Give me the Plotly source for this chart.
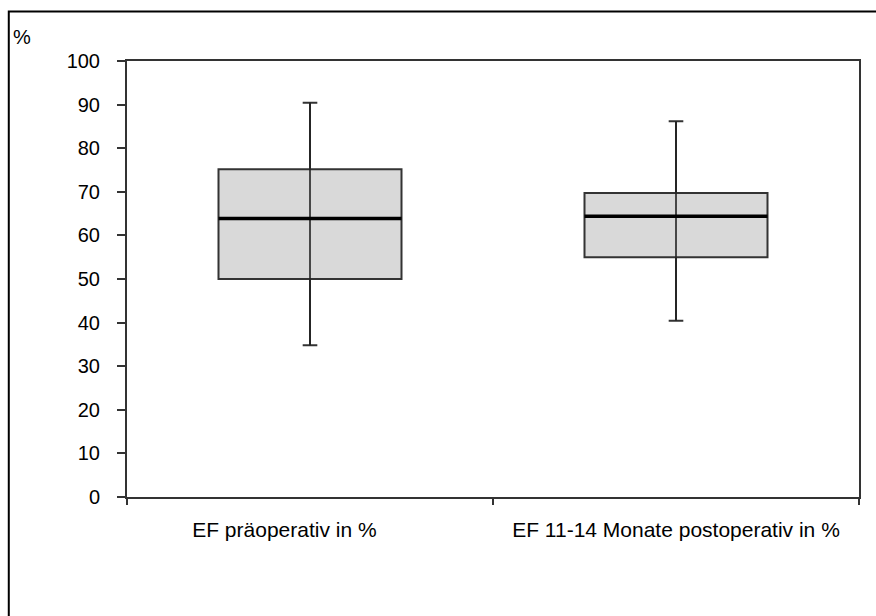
import plotly.graph_objects as go

# Ejection fraction before surgery and 11-14 months after
categories = ["EF präoperativ in %", "EF 11-14 Monate postoperativ in %"]
x_pos = [0, 1]
minimum = [34.8, 40.4]
q1 = [50.0, 55.0]
median = [63.9, 64.4]
q3 = [75.2, 69.7]
maximum = [90.4, 86.2]

y_ticks = list(range(0, 101, 10))
label_pos = [-0.07, 1.0]

FONT = "Liberation Sans, Arial, sans-serif"
LINE = "#333333"
BOX_HALF = 0.25

fig = go.Figure()

fig.add_trace(go.Box(
    x=x_pos,
    q1=q1, median=median, q3=q3,
    lowerfence=minimum, upperfence=maximum,
    width=2 * BOX_HALF,
    whiskerwidth=0.08,
    fillcolor="#d9d9d9",
    line=dict(color=LINE, width=2),
    boxpoints=False,
    hoverinfo="skip",
    showlegend=False,
))

# whisker line running through each box
for xi, lo, hi in zip(x_pos, minimum, maximum):
    fig.add_trace(go.Scatter(
        x=[xi, xi], y=[lo, hi], mode="lines",
        line=dict(color="#222222", width=1.6),
        hoverinfo="skip", showlegend=False,
    ))

# heavier median bars
for xi, m in zip(x_pos, median):
    fig.add_trace(go.Scatter(
        x=[xi - BOX_HALF, xi + BOX_HALF], y=[m, m], mode="lines",
        line=dict(color="#000000", width=3.5),
        hoverinfo="skip", showlegend=False,
    ))

fig.update_layout(
    width=876, height=616,
    margin=dict(l=127, r=17, t=61, b=119),
    paper_bgcolor="white", plot_bgcolor="white",
    font=dict(family=FONT, size=20, color="#000000"),
    xaxis=dict(
        range=[-0.5, 1.5],
        tickmode="array", tickvals=label_pos, ticktext=categories,
        tickfont=dict(size=21),
        ticks="", showgrid=False, zeroline=False,
        showline=True, linecolor=LINE, linewidth=2, mirror=True,
        ticklabelstandoff=13,
        minor=dict(tickmode="array", tickvals=[-0.5, 0.5, 1.5],
                   ticks="outside", ticklen=6, tickwidth=2, tickcolor=LINE),
    ),
    yaxis=dict(
        range=[0, 100],
        tickmode="array", tickvals=y_ticks,
        ticks="outside", ticklen=8, tickwidth=2, tickcolor=LINE,
        showgrid=False, zeroline=False,
        showline=True, linecolor=LINE, linewidth=2, mirror=True,
        ticklabelstandoff=13,
    ),
    annotations=[dict(
        text="%", xref="paper", yref="paper",
        x=-0.158, y=1.055, xanchor="left", yanchor="middle",
        showarrow=False, font=dict(family=FONT, size=20, color="#000000"),
    )],
    shapes=[dict(
        type="rect", xref="paper", yref="paper",
        x0=-0.1615, x1=1.1, y0=-0.3, y1=1.1135,
        line=dict(color="#000000", width=2), fillcolor="rgba(0,0,0,0)",
        layer="below",
    )],
)

fig.write_html("out.html")
